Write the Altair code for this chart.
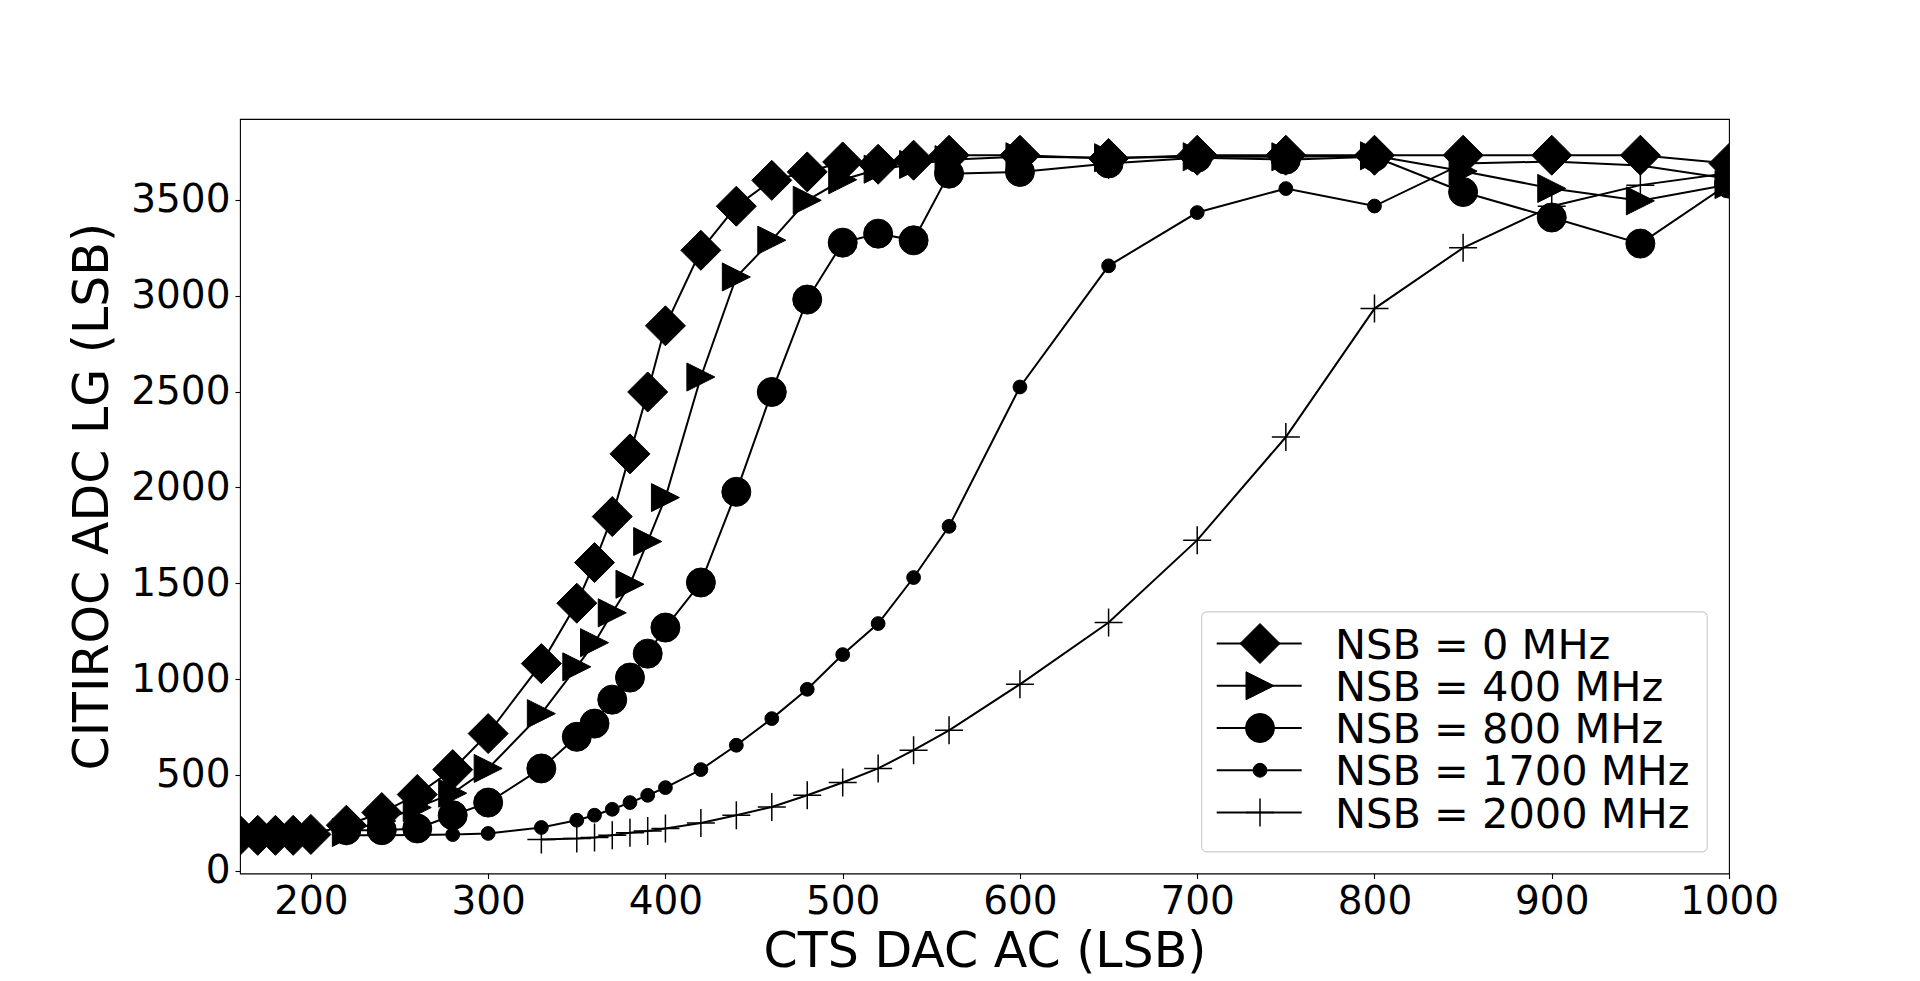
import altair as alt
import pandas as pd

# ---------------- data ----------------
series_labels = ["NSB = 0 MHz", "NSB = 400 MHz", "NSB = 800 MHz",
                 "NSB = 1700 MHz", "NSB = 2000 MHz"]

x_0 = [160, 170, 180, 190, 200, 220, 240, 260, 280, 300, 330, 350, 360, 370,
       380, 390, 400, 420, 440, 460, 480, 500, 520, 540, 560, 600, 650, 700,
       750, 800, 850, 900, 950, 1000]
y_0 = [185, 185, 185, 185, 190, 238, 304, 398, 528, 716, 1081, 1396, 1608,
       1848, 2175, 2498, 2843, 3237, 3467, 3602, 3646, 3698, 3686, 3707, 3733,
       3733, 3716, 3733, 3733, 3733, 3733, 3733, 3733, 3690]

x_400 = [220, 240, 260, 280, 300, 330, 350, 360, 370, 380, 390, 400, 420, 440,
         460, 480, 500, 520, 540, 560, 600, 650, 700, 750, 800, 850, 900, 950,
         1000]
y_400 = [200, 260, 330, 405, 534, 820, 1064, 1190, 1346, 1495, 1718, 1947,
         2576, 3098, 3290, 3498, 3605, 3660, 3685, 3710, 3725, 3720, 3725,
         3725, 3730, 3650, 3560, 3495, 3580]

x_800 = [220, 240, 260, 280, 300, 330, 350, 360, 370, 380, 390, 400, 420, 440,
         460, 480, 500, 520, 540, 560, 600, 650, 700, 750, 800, 850, 900, 950,
         1000]
y_800 = [212, 212, 221, 290, 356, 534, 699, 768, 893, 1008, 1133, 1269, 1504,
         1977, 2498, 2980, 3277, 3324, 3289, 3637, 3646, 3690, 3720, 3710,
         3725, 3541, 3408, 3272, 3585]

x_1700 = [220, 240, 260, 280, 300, 330, 350, 360, 370, 380, 390, 400, 420,
          440, 460, 480, 500, 520, 540, 560, 600, 650, 700, 750, 800, 850, 900,
          950, 1000]
y_1700 = [185, 185, 187, 189, 195, 226, 264, 290, 321, 356, 394, 434, 528, 655,
          794, 947, 1128, 1290, 1530, 1797, 2524, 3156, 3434, 3559, 3468, 3690,
          3700, 3680, 3610]

x_2000 = [330, 350, 360, 370, 380, 390, 400, 420, 440, 460, 480, 500, 520, 540,
          560, 600, 650, 700, 750, 800, 850, 900, 950, 1000]
y_2000 = [163, 168, 174, 186, 198, 208, 221, 250, 290, 333, 394, 461, 534, 629,
          733, 973, 1295, 1725, 2263, 2933, 3250, 3467, 3577, 3640]

x_ticks = [200, 300, 400, 500, 600, 700, 800, 900, 1000]
y_ticks = [0, 500, 1000, 1500, 2000, 2500, 3000, 3500]

series = [(x_0, y_0), (x_400, y_400), (x_800, y_800),
          (x_1700, y_1700), (x_2000, y_2000)]

# ---------------- styling ----------------
FONT = "DejaVu Sans"
W, H = 1489, 754.5
TICK_FS = 39
TITLE_FS = 49
LEG_FS = 41.5

DIAMOND = "M-1,0L0,-1L1,0L0,1Z"
TRI_R = "M1,0L-1,-1L-1,1Z"
CROSS = "M-1,0L1,0M0,-1L0,1"

marker_styles = [
    dict(shape=DIAMOND, size=1600, filled=True),
    dict(shape=TRI_R, size=784, filled=True),
    dict(shape="circle", size=841, filled=True),
    dict(shape="circle", size=190, filled=True),
    dict(shape=CROSS, size=784, filled=False),
]

xscale = alt.Scale(domain=[160, 1000], nice=False, zero=False)
yscale = alt.Scale(domain=[-14, 3922], nice=False, zero=False)

xaxis = alt.Axis(
    title="CTS DAC AC (LSB)", values=x_ticks, format="d", grid=False,
    domain=False, labelFont=FONT, labelFontSize=TICK_FS, labelColor="black",
    tickColor="black", tickSize=5, tickWidth=1.1, labelPadding=4,
    labelFlush=False, labelOverlap=False, labelBound=False,
    titleFont=FONT, titleFontSize=TITLE_FS, titleFontWeight="normal",
    titleColor="black", titleX=W / 2, titleY=93.4, titleAlign="center",
    titleBaseline="alphabetic",
)
yaxis = alt.Axis(
    title="CITIROC ADC LG (LSB)", values=y_ticks, format="d", grid=False,
    domain=False, labelFont=FONT, labelFontSize=TICK_FS, labelColor="black",
    tickColor="black", tickSize=5, tickWidth=1.1, labelPadding=5,
    labelFlush=False, labelOverlap=False, labelBound=False,
    titleFont=FONT, titleFontSize=TITLE_FS, titleFontWeight="normal",
    titleColor="black", titleX=-148, titleY=H / 2, titleAngle=270,
    titleAlign="center", titleBaseline="middle",
)

X = alt.X("x:Q", scale=xscale, axis=xaxis)
Y = alt.Y("y:Q", scale=yscale, axis=yaxis)

layers = []
for (xv, yv), st in zip(series, marker_styles):
    df = pd.DataFrame({"x": xv, "y": yv})
    base = alt.Chart(df)
    layers.append(base.mark_line(color="black", strokeWidth=2, clip=True)
                  .encode(x=X, y=Y))
    if st["filled"]:
        pt = base.mark_point(shape=st["shape"], size=st["size"], filled=True,
                             fill="black", stroke="black", strokeWidth=1,
                             opacity=1, clip=True)
    else:
        pt = base.mark_point(shape=st["shape"], size=st["size"], filled=False,
                             stroke="black", strokeWidth=1.5, opacity=1,
                             clip=True)
    layers.append(pt.encode(x=X, y=Y))

# ---------------- legend (drawn in pixel space) ----------------
one = pd.DataFrame({"a": [0]})
box = alt.Chart(one).mark_rect(
    fill="white", fillOpacity=0.8, stroke="#cccccc", strokeWidth=1.1,
    cornerRadius=5,
).encode(x=alt.value(961.7), x2=alt.value(1467.3),
         y=alt.value(492.9), y2=alt.value(732.9))
layers.append(box)

row0, drow = 524.5, 42.25
for i, (lab, st) in enumerate(zip(series_labels, marker_styles)):
    ry = row0 + i * drow
    ldf = pd.DataFrame({"label": [lab]})
    lb = alt.Chart(ldf)
    layers.append(lb.mark_rule(color="black", strokeWidth=2).encode(
        x=alt.value(976.7), x2=alt.value(1061.7), y=alt.value(ry)))
    if st["filled"]:
        mk = lb.mark_point(shape=st["shape"], size=st["size"], filled=True,
                           fill="black", stroke="black", strokeWidth=1,
                           opacity=1)
    else:
        mk = lb.mark_point(shape=st["shape"], size=st["size"], filled=False,
                           stroke="black", strokeWidth=1.5, opacity=1)
    layers.append(mk.encode(x=alt.value(1020), y=alt.value(ry)))
    layers.append(lb.mark_text(font=FONT, fontSize=LEG_FS, color="black",
                               align="left", baseline="alphabetic").encode(
        x=alt.value(1095), y=alt.value(ry + 15), text="label:N"))

chart = alt.layer(*layers).properties(
    width=W, height=H,
    autosize=alt.AutoSizeParams(type="none"),
    padding={"left": 232, "top": 111, "right": 150, "bottom": 106},
    background="white",
).configure_view(stroke="black", strokeWidth=1.1)

chart.save("out.html", embed_options={"renderer": "svg", "actions": False})
